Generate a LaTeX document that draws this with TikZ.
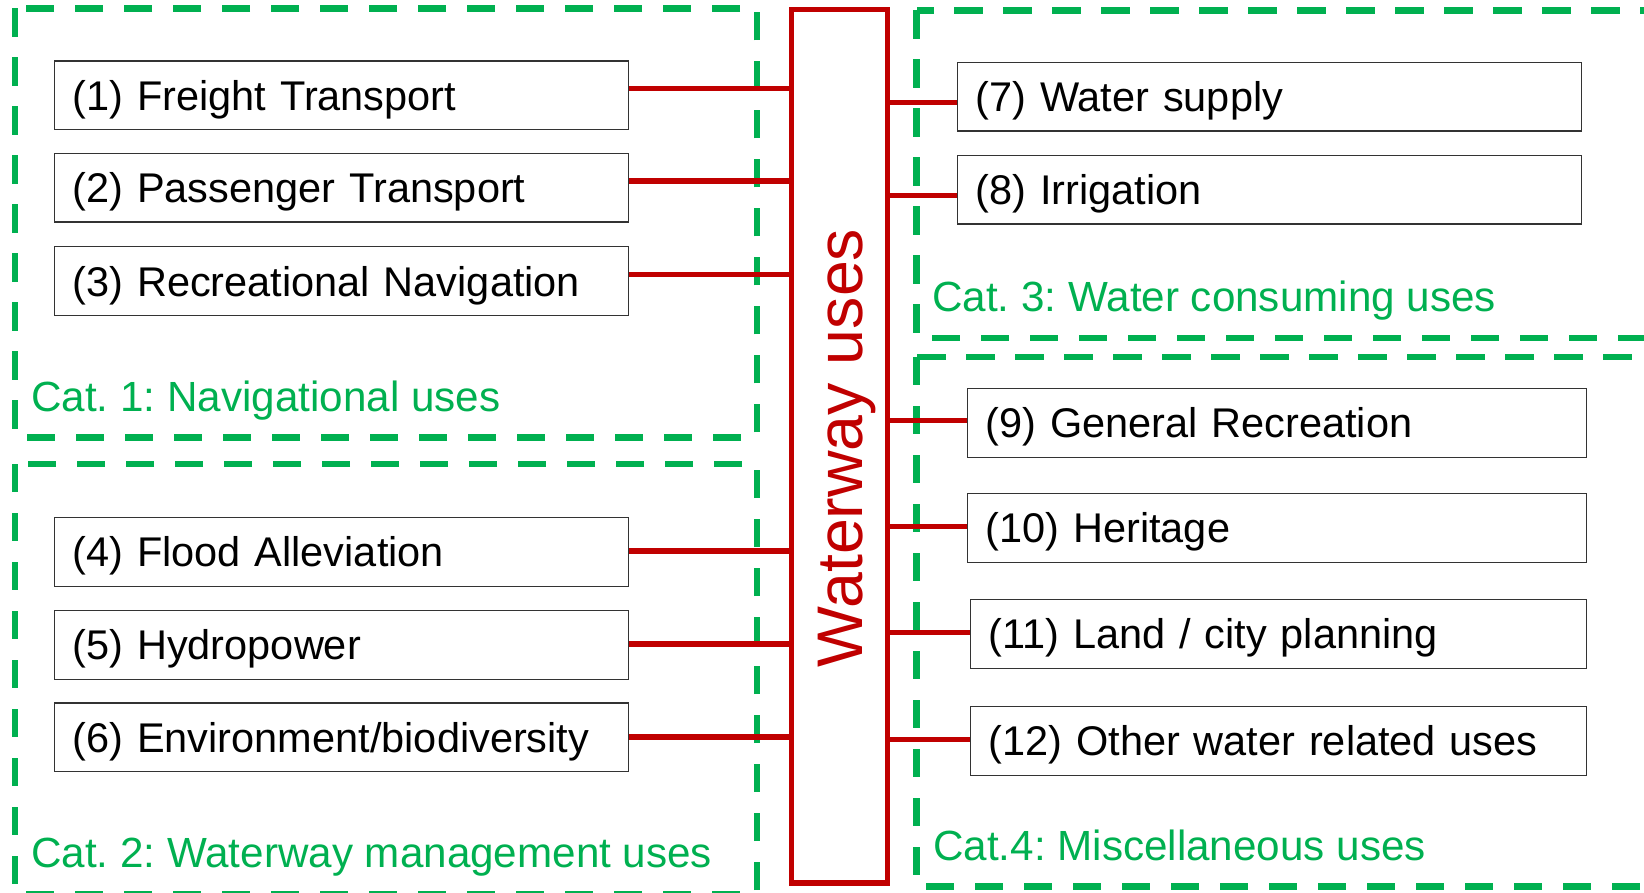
\documentclass[tikz,border=0pt]{standalone}
\usepackage{fontspec}
\setmainfont{Liberation Sans}
\definecolor{wgreen}{HTML}{00B050}
\definecolor{wred}{HTML}{C00000}
\begin{document}
\frenchspacing
\begin{tikzpicture}[x=1pt,y=-1pt,
  usebox/.style={draw=black!80, line width=1.3pt, fill=white, rectangle, anchor=north west,
    minimum height=68.5pt, inner xsep=18pt, inner ysep=0pt, align=left,
    text height=31pt, text depth=1pt, font=\fontsize{41.5}{50}\selectfont\frenchspacing},
  catbox/.style={draw=wgreen, line width=6.5pt, dash pattern=on 28.3pt off 20.7pt},
  catlabel/.style={text=wgreen, anchor=base west, inner sep=0pt, font=\fontsize{42.2}{50}\selectfont\frenchspacing},
  redline/.style={draw=wred, line width=5.5pt}]
\useasboundingbox (0,0) rectangle (1644,893);
\clip (0,0) rectangle (1644,893);

% category frames
\draw[catbox] (15,8.3) rectangle (757,437.3);
\draw[catbox] (15,464) rectangle (757,894);
\draw[catbox] (916.7,10.3) rectangle (1700,338);
\draw[catbox] (916.7,357) rectangle (1700,886.7);

% category labels
\node[catlabel] (c1) at (31,411) {Cat. 1: Navigational uses};
\node[catlabel] (c2) at (31,867) {Cat. 2: Waterway management uses};
\node[catlabel] (c3) at (932,311.5) {Cat. 3: Water consuming uses};
\node[catlabel] (c4) at (933,860) {Cat.4: Miscellaneous uses};

% central box
\node[draw=wred, line width=5.5pt, minimum width=95.8pt, minimum height=873.5pt, inner sep=0pt] (wbox) at (839.6,446.25) {};
\node[text=wred, rotate=90, anchor=base, inner sep=0pt, font=\fontsize{64.5}{70}\selectfont] (wtext) at (862,448) {Waterway uses};

% left boxes
\node[usebox, text width=538pt] (b1) at (54,60.5) {(1) Freight Transport};
\node[usebox, text width=538pt] (b2) at (54,153) {(2) Passenger Transport};
\node[usebox, text width=538pt] (b3) at (54,246.2) {(3) Recreational Navigation};
\node[usebox, text width=538pt] (b4) at (54,517) {(4) Flood Alleviation};
\node[usebox, text width=538pt] (b5) at (54,610) {(5) Hydropower};
\node[usebox, text width=538pt] (b6) at (54,702.3) {(6) Environment/biodiversity};

% right boxes
\node[usebox, text width=588pt] (b7) at (957,62) {(7) Water supply};
\node[usebox, text width=588pt] (b8) at (957,155) {(8) Irrigation};
\node[usebox, text width=583pt] (b9) at (967,388) {(9) General Recreation};
\node[usebox, text width=583pt] (b10) at (967,493) {(10) Heritage};
\node[usebox, text width=580pt] (b11) at (970,599) {(11) Land / city planning};
\node[usebox, text width=580pt] (b12) at (970,706) {(12) Other water related uses};

% connectors left
\draw[redline] ([yshift=6.7pt]b1.east) -- ([yshift=6.7pt]b1.east -| wbox.west);
\draw[redline] ([yshift=6.7pt]b2.east) -- ([yshift=6.7pt]b2.east -| wbox.west);
\draw[redline] ([yshift=6.5pt]b3.east) -- ([yshift=6.5pt]b3.east -| wbox.west);
\draw[redline] ([yshift=1pt]b4.east) -- ([yshift=1pt]b4.east -| wbox.west);
\draw[redline] ([yshift=1pt]b5.east) -- ([yshift=1pt]b5.east -| wbox.west);
\draw[redline] (b6.east) -- (b6.east -| wbox.west);

% connectors right
\draw[redline] ([yshift=-5.4pt]b7.west) -- ([yshift=-5.4pt]b7.west -| wbox.east);
\draw[redline] ([yshift=-5.4pt]b8.west) -- ([yshift=-5.4pt]b8.west -| wbox.east);
\draw[redline] ([yshift=2.5pt]b9.west) -- ([yshift=2.5pt]b9.west -| wbox.east);
\draw[redline] ([yshift=1.3pt]b10.west) -- ([yshift=1.3pt]b10.west -| wbox.east);
\draw[redline] ([yshift=1.5pt]b11.west) -- ([yshift=1.5pt]b11.west -| wbox.east);
\draw[redline] ([yshift=1.5pt]b12.west) -- ([yshift=1.5pt]b12.west -| wbox.east);
\end{tikzpicture}
\end{document}
